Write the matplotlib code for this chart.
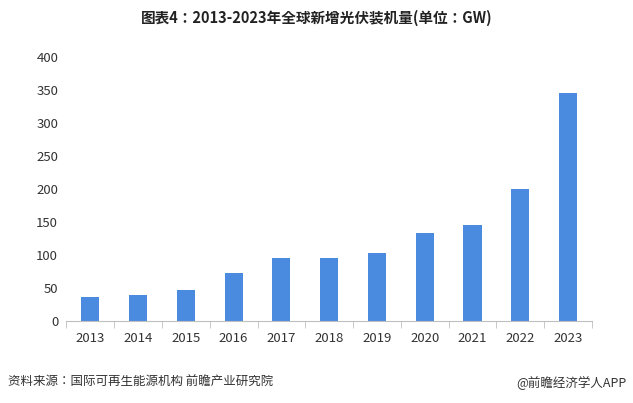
import matplotlib.pyplot as plt
from matplotlib import font_manager
import numpy as np

# pick whichever CJK family is actually registered
cjk = [f.name for f in font_manager.fontManager.ttflist if 'CJK' in f.name]
plt.rcParams['font.family'] = sorted(set(cjk)) + ['DejaVu Sans'] if cjk else ['DejaVu Sans']
plt.rcParams['font.sans-serif'] = ['Noto Sans CJK SC', 'Noto Sans CJK JP', 'DejaVu Sans']

years = ['2013', '2014', '2015', '2016', '2017', '2018', '2019', '2020', '2021', '2022', '2023']
capacity = [36, 40, 48, 73, 95, 95, 103, 133, 146, 200, 346]

fig = plt.figure(figsize=(6.33, 4.03), dpi=100)
ax = fig.add_axes([0.105, 0.203, 0.83, 0.655])

x = np.arange(len(years))
ax.bar(x, capacity, width=0.38, color='#4a8be0')

ax.set_xlim(-0.5, len(years) - 0.5)
ax.set_ylim(0, 400)
ax.set_yticks(range(0, 401, 50))
ax.set_xticks(x)
ax.set_xticklabels(years)
ax.set_xticks(np.arange(-0.5, len(years), 1), minor=True)
ax.tick_params(axis='x', which='major', length=0, pad=8)
ax.tick_params(axis='x', which='minor', length=5, color='#bfbfbf')
ax.tick_params(axis='y', length=0, pad=6)
ax.tick_params(labelsize=9.5, labelcolor='#333333')

for s in ['top', 'right', 'left']:
    ax.spines[s].set_visible(False)
ax.spines['bottom'].set_color('#bfbfbf')

fig.text(0.5, 0.955, '图表4：2013-2023年全球新增光伏装机量(单位：GW)',
         ha='center', va='center', fontsize=10.5, fontweight='bold', color='#222222')
fig.text(0.012, 0.05, '资料来源：国际可再生能源机构 前瞻产业研究院',
         ha='left', va='center', fontsize=9, color='#333333')
fig.text(0.99, 0.05, '@前瞻经济学人APP',
         ha='right', va='center', fontsize=9, color='#333333')

fig.savefig('out.png', dpi=100)
